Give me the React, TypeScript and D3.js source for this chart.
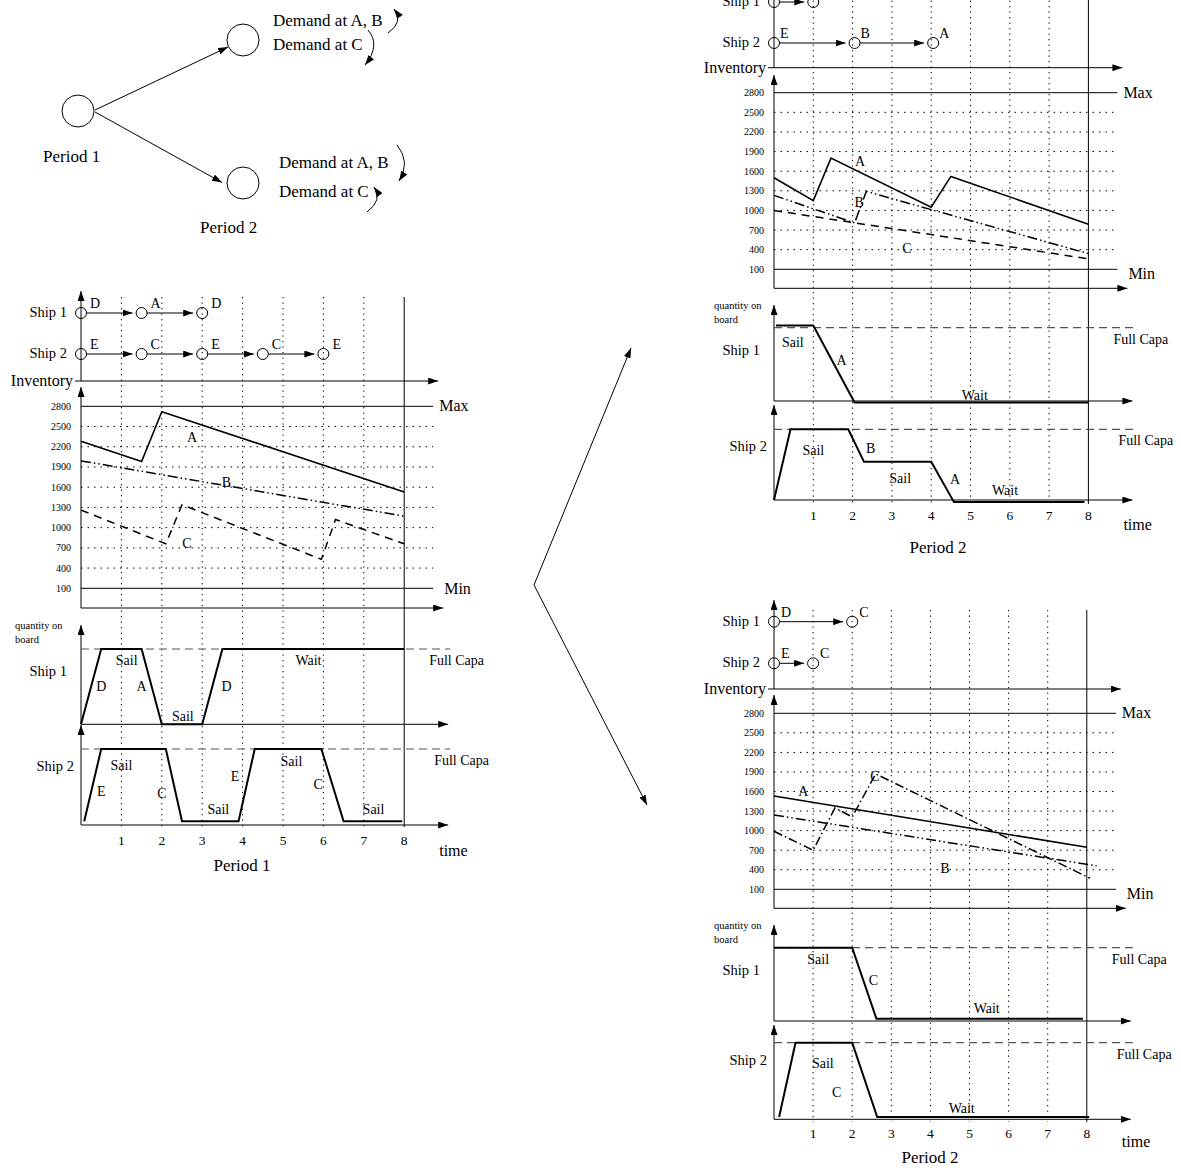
import React from 'react';
import * as d3 from 'd3';

type Pt = [number, number];
type Stop = { t: number; label: string };
type Lbl = { t: number; v: number; text: string };

const FONT = '"Liberation Serif", "Times New Roman", serif';

// ---------- shared ticks ----------
const invTicks = [2800, 2500, 2200, 1900, 1600, 1300, 1000, 700, 400, 100];
const timeTicks = [1, 2, 3, 4, 5, 6, 7, 8];

// ---------- Period 1 ----------
const p1InvA: Pt[] = [[0, 2280], [1.5, 1980], [2, 2720], [8, 1530]];
const p1InvB: Pt[] = [[0, 1990], [8, 1170]];
const p1InvC: Pt[] = [[0, 1260], [2.1, 760], [2.5, 1340], [5.95, 530], [6.3, 1120], [8, 760]];
const p1Ship1Route: Stop[] = [{ t: 0, label: 'D' }, { t: 1.5, label: 'A' }, { t: 3, label: 'D' }];
const p1Ship2Route: Stop[] = [{ t: 0, label: 'E' }, { t: 1.5, label: 'C' }, { t: 3, label: 'E' }, { t: 4.5, label: 'C' }, { t: 6, label: 'E' }];
const p1Ship1Load: Pt[] = [[0, 0], [0.5, 1], [1.5, 1], [2, 0], [3, 0], [3.5, 1], [8, 1]];
const p1Ship2Load: Pt[] = [[0.08, 0.05], [0.5, 1], [2.1, 1], [2.5, 0.05], [3.9, 0.05], [4.3, 1], [5.95, 1], [6.5, 0.05], [7.95, 0.05]];
const p1InvLabels: Lbl[] = [{ t: 2.75, v: 2340, text: 'A' }, { t: 3.6, v: 1680, text: 'B' }, { t: 2.62, v: 770, text: 'C' }];
const p1Ship1Labels: Lbl[] = [
  { t: 1.13, v: 0.85, text: 'Sail' }, { t: 0.5, v: 0.51, text: 'D' }, { t: 1.5, v: 0.51, text: 'A' },
  { t: 2.52, v: 0.11, text: 'Sail' }, { t: 3.6, v: 0.51, text: 'D' }, { t: 5.63, v: 0.85, text: 'Wait' },
];
const p1Ship2Labels: Lbl[] = [
  { t: 1.0, v: 0.79, text: 'Sail' }, { t: 0.5, v: 0.45, text: 'E' }, { t: 2.0, v: 0.42, text: 'C' },
  { t: 3.4, v: 0.21, text: 'Sail' }, { t: 3.81, v: 0.645, text: 'E' }, { t: 5.21, v: 0.84, text: 'Sail' },
  { t: 5.87, v: 0.535, text: 'C' }, { t: 7.24, v: 0.21, text: 'Sail' },
];

// ---------- Period 2, first branch ----------
const p2aInvA: Pt[] = [[0, 1500], [1, 1150], [1.45, 1800], [4, 1050], [4.5, 1520], [8, 790]];
const p2aInvB: Pt[] = [[0, 1230], [2.05, 810], [2.35, 1290], [8, 340]];
const p2aInvC: Pt[] = [[0, 1000], [8, 260]];
const p2aShip1Route: Stop[] = [{ t: 0, label: '' }, { t: 1, label: '' }];
const p2aShip2Route: Stop[] = [{ t: 0, label: 'E' }, { t: 2.05, label: 'B' }, { t: 4.05, label: 'A' }];
const p2aShip1Load: Pt[] = [[0.05, 1.03], [1, 1.03], [2.05, -0.02], [8, -0.02]];
const p2aShip2Load: Pt[] = [[0, 0], [0.42, 1], [1.89, 1], [2.29, 0.54], [4, 0.54], [4.58, -0.03], [7.9, -0.03]];
const p2aInvLabels: Lbl[] = [{ t: 2.19, v: 1760, text: 'A' }, { t: 2.17, v: 1130, text: 'B' }, { t: 3.38, v: 420, text: 'C' }];
const p2aShip1Labels: Lbl[] = [{ t: 0.48, v: 0.81, text: 'Sail' }, { t: 1.72, v: 0.56, text: 'A' }, { t: 5.11, v: 0.08, text: 'Wait' }];
const p2aShip2Labels: Lbl[] = [
  { t: 1.0, v: 0.71, text: 'Sail' }, { t: 2.46, v: 0.73, text: 'B' }, { t: 3.21, v: 0.31, text: 'Sail' },
  { t: 4.61, v: 0.29, text: 'A' }, { t: 5.88, v: 0.14, text: 'Wait' },
];

// ---------- Period 2, second branch ----------
const p2bInvA: Pt[] = [[0, 1530], [8, 745]];
const p2bInvB: Pt[] = [[0, 1240], [8.25, 460]];
const p2bInvC: Pt[] = [[0, 990], [1, 700], [1.56, 1350], [2, 1210], [2.6, 1870], [8.08, 270]];
const p2bShip1Route: Stop[] = [{ t: 0, label: 'D' }, { t: 2, label: 'C' }];
const p2bShip2Route: Stop[] = [{ t: 0, label: 'E' }, { t: 1, label: 'C' }];
const p2bShip1Load: Pt[] = [[0, 1], [2, 1], [2.62, 0.03], [7.9, 0.03]];
const p2bShip2Load: Pt[] = [[0.13, 0.03], [0.55, 1], [2, 1], [2.64, 0.03], [8.06, 0.03]];
const p2bInvLabels: Lbl[] = [{ t: 0.75, v: 1600, text: 'A' }, { t: 4.37, v: 430, text: 'B' }, { t: 2.58, v: 1830, text: 'C' }];
const p2bShip1Labels: Lbl[] = [{ t: 1.13, v: 0.84, text: 'Sail' }, { t: 2.54, v: 0.56, text: 'C' }, { t: 5.44, v: 0.17, text: 'Wait' }];
const p2bShip2Labels: Lbl[] = [{ t: 1.25, v: 0.73, text: 'Sail' }, { t: 1.6, v: 0.36, text: 'C' }, { t: 4.8, v: 0.15, text: 'Wait' }];

// ---------- layout ----------
interface Layout {
  x0: number; unit: number;
  route1: number; route2: number; routeTop: number;
  invAxis: number; invTop: number; y2800: number; y100: number; invBottom: number;
  s1Top: number; s1Full: number; s1Base: number;
  s2Top: number; s2Full: number; s2Base: number;
  ticksY: number; timeY: number; periodY: number; periodX: number;
  gridTop: number; gridBottom: number; qLabelX: number; period: string;
  minDy: number; routeLabelDx: number;
}

interface PanelData {
  invA: Pt[]; invB: Pt[]; invC: Pt[];
  route1: Stop[]; route2: Stop[];
  load1: Pt[]; load2: Pt[];
  invLabels: Lbl[]; s1Labels: Lbl[]; s2Labels: Lbl[];
  dashB: string; dashC: string;
}

const DASH_DOT2 = '10,3,1.5,3,1.5,3';
const DASHED = '8,6';

const L1: Layout = {
  x0: 81, unit: 40.4, route1: 313, route2: 354, routeTop: 291,
  invAxis: 381, invTop: 387, y2800: 406.3, y100: 588.3, invBottom: 608,
  s1Top: 625, s1Full: 649, s1Base: 724.3, s2Top: 725, s2Full: 749, s2Base: 825,
  ticksY: 845, timeY: 856, periodY: 871, periodX: 242,
  gridTop: 297, gridBottom: 827, qLabelX: 15, period: 'Period 1', minDy: 6, routeLabelDx: 9,
};
const L2a: Layout = {
  x0: 774, unit: 39.3, route1: 2, route2: 43, routeTop: -20,
  invAxis: 67.7, invTop: 75, y2800: 92.7, y100: 269.3, invBottom: 288.3,
  s1Top: 305, s1Full: 327.7, s1Base: 401, s2Top: 405, s2Full: 429.3, s2Base: 500,
  ticksY: 520, timeY: 529.5, periodY: 553, periodX: 938,
  gridTop: -5, gridBottom: 504, qLabelX: 714, period: 'Period 2', minDy: 10, routeLabelDx: 6,
};
const L2b: Layout = {
  x0: 774, unit: 39.1, route1: 621.7, route2: 663.3, routeTop: 600,
  invAxis: 689, invTop: 695, y2800: 713.3, y100: 889.3, invBottom: 908.3,
  s1Top: 925, s1Full: 947.7, s1Base: 1021, s2Top: 1025, s2Full: 1042.7, s2Base: 1119.3,
  ticksY: 1137.5, timeY: 1147, periodY: 1163, periodX: 930,
  gridTop: 610, gridBottom: 1122, qLabelX: 714, period: 'Period 2', minDy: 10, routeLabelDx: 7,
};

const D1: PanelData = {
  invA: p1InvA, invB: p1InvB, invC: p1InvC, route1: p1Ship1Route, route2: p1Ship2Route,
  load1: p1Ship1Load, load2: p1Ship2Load, invLabels: p1InvLabels, s1Labels: p1Ship1Labels, s2Labels: p1Ship2Labels,
  dashB: DASH_DOT2, dashC: DASHED,
};
const D2a: PanelData = {
  invA: p2aInvA, invB: p2aInvB, invC: p2aInvC, route1: p2aShip1Route, route2: p2aShip2Route,
  load1: p2aShip1Load, load2: p2aShip2Load, invLabels: p2aInvLabels, s1Labels: p2aShip1Labels, s2Labels: p2aShip2Labels,
  dashB: DASH_DOT2, dashC: DASHED,
};
const D2b: PanelData = {
  invA: p2bInvA, invB: p2bInvB, invC: p2bInvC, route1: p2bShip1Route, route2: p2bShip2Route,
  load1: p2bShip1Load, load2: p2bShip2Load, invLabels: p2bInvLabels, s1Labels: p2bShip1Labels, s2Labels: p2bShip2Labels,
  dashB: DASH_DOT2, dashC: '9,3,1.5,3',
};

const T = (props: any) => <text fontFamily={FONT} fill="#000" {...props} />;

function Arrow({ x1, y1, x2, y2, w = 1 }: { x1: number; y1: number; x2: number; y2: number; w?: number }) {
  return <line x1={x1} y1={y1} x2={x2} y2={y2} stroke="#000" strokeWidth={w} markerEnd="url(#ah)" />;
}

function Route({ stops, row, x, dx }: { stops: Stop[]; row: number; x: d3.ScaleLinear<number, number>; dx: number }) {
  return (
    <g>
      {stops.map((s, i) => (
        <g key={i}>
          <circle cx={x(s.t)} cy={row} r={5.5} fill="none" stroke="#000" strokeWidth={1} />
          {s.label && <T x={x(s.t) + dx} y={row - 5} fontSize={14}>{s.label}</T>}
          {i < stops.length - 1 && (
            <Arrow x1={x(s.t) + 5.5} y1={row} x2={x(stops[i + 1].t) - 9} y2={row} />
          )}
        </g>
      ))}
    </g>
  );
}

function Panel({ L, D }: { L: Layout; D: PanelData }) {
  const x = d3.scaleLinear().domain([0, 8]).range([L.x0, L.x0 + 8 * L.unit]);
  const xEnd = x(8);
  const yInv = d3.scaleLinear().domain([100, 2800]).range([L.y100, L.y2800]);
  const yS1 = d3.scaleLinear().domain([0, 1]).range([L.s1Base, L.s1Full]);
  const yS2 = d3.scaleLinear().domain([0, 1]).range([L.s2Base, L.s2Full]);
  const invLine = d3.line<Pt>().x(d => x(d[0])).y(d => yInv(d[1]));
  const s1Line = d3.line<Pt>().x(d => x(d[0])).y(d => yS1(d[1]));
  const s2Line = d3.line<Pt>().x(d => x(d[0])).y(d => yS2(d[1]));

  return (
    <g>
      {/* vertical grid */}
      {timeTicks.map(t => (
        <line key={'vg' + t} x1={x(t)} x2={x(t)} y1={L.gridTop} y2={L.gridBottom}
          stroke="#000" strokeWidth={1} strokeDasharray={t === 8 ? undefined : '1.3,4.2'} />
      ))}
      {/* horizontal inventory grid */}
      {invTicks.map(v => (
        <g key={'hg' + v}>
          <line x1={L.x0} x2={xEnd + 29} y1={yInv(v)} y2={yInv(v)} stroke="#000" strokeWidth={1}
            strokeDasharray={v === 2800 || v === 100 ? undefined : '1.5,5'} />
          <T x={L.x0 - 10} y={yInv(v) + 3.5} fontSize={10} textAnchor="end">{v}</T>
        </g>
      ))}
      <T x={xEnd + 35} y={L.y2800 + 5} fontSize={16}>Max</T>
      <T x={xEnd + 40} y={L.y100 + L.minDy} fontSize={16}>Min</T>

      {/* route area */}
      <line x1={L.x0} y1={L.invAxis} x2={L.x0} y2={L.routeTop} stroke="#000" markerEnd="url(#ah)" />
      <T x={L.x0 - 14} y={L.route1 + 4} fontSize={14.5} textAnchor="end">Ship 1</T>
      <T x={L.x0 - 14} y={L.route2 + 4} fontSize={14.5} textAnchor="end">Ship 2</T>
      <Route stops={D.route1} row={L.route1} x={x} dx={L.routeLabelDx} />
      <Route stops={D.route2} row={L.route2} x={x} dx={L.routeLabelDx} />
      <Arrow x1={L.x0 - 6} y1={L.invAxis} x2={xEnd + 34} y2={L.invAxis} />
      <T x={L.x0 - 8} y={L.invAxis + 5} fontSize={16} textAnchor="end">Inventory</T>

      {/* inventory axes */}
      <Arrow x1={L.x0} y1={L.invBottom} x2={L.x0} y2={L.invTop} />
      <Arrow x1={L.x0} y1={L.invBottom} x2={xEnd + 39} y2={L.invBottom} />

      {/* inventory series */}
      <path d={invLine(D.invA) || ''} fill="none" stroke="#000" strokeWidth={1.6} />
      <path d={invLine(D.invB) || ''} fill="none" stroke="#000" strokeWidth={1.5} strokeDasharray={D.dashB} />
      <path d={invLine(D.invC) || ''} fill="none" stroke="#000" strokeWidth={1.5} strokeDasharray={D.dashC} />
      {D.invLabels.map((l, i) => (
        <T key={'il' + i} x={x(l.t)} y={yInv(l.v)} dy="0.35em" fontSize={14} textAnchor="middle">{l.text}</T>
      ))}

      {/* ship 1 load */}
      <T x={L.qLabelX} y={L.s1Top + 3.5} fontSize={10.5}>quantity on</T>
      <T x={L.qLabelX} y={L.s1Top + 17.5} fontSize={10.5}>board</T>
      <T x={L.x0 - 14} y={L.s1Full + 27} fontSize={14.5} textAnchor="end">Ship 1</T>
      <Arrow x1={L.x0} y1={L.s1Base} x2={L.x0} y2={L.s1Top} />
      <Arrow x1={L.x0} y1={L.s1Base} x2={xEnd + 44} y2={L.s1Base} />
      <line x1={L.x0} x2={xEnd + 46} y1={yS1(1)} y2={yS1(1)} stroke="#555" strokeWidth={1.2} strokeDasharray="8,5" />
      <T x={xEnd + 25} y={L.s1Full + 16} fontSize={14}>Full Capa</T>
      <path d={s1Line(D.load1) || ''} fill="none" stroke="#000" strokeWidth={2} />
      {D.s1Labels.map((l, i) => (
        <T key={'s1' + i} x={x(l.t)} y={yS1(l.v)} dy="0.35em" fontSize={14} textAnchor="middle">{l.text}</T>
      ))}

      {/* ship 2 load */}
      <T x={L.x0 - 7} y={L.s2Full + 22} fontSize={14.5} textAnchor="end">Ship 2</T>
      <Arrow x1={L.x0} y1={L.s2Base} x2={L.x0} y2={L.s2Top} />
      <Arrow x1={L.x0} y1={L.s2Base} x2={xEnd + 44} y2={L.s2Base} />
      <line x1={L.x0} x2={xEnd + 46} y1={yS2(1)} y2={yS2(1)} stroke="#555" strokeWidth={1.2} strokeDasharray="8,5" />
      <T x={xEnd + 30} y={L.s2Full + 16} fontSize={14}>Full Capa</T>
      <path d={s2Line(D.load2) || ''} fill="none" stroke="#000" strokeWidth={2} />
      {D.s2Labels.map((l, i) => (
        <T key={'s2' + i} x={x(l.t)} y={yS2(l.v)} dy="0.35em" fontSize={14} textAnchor="middle">{l.text}</T>
      ))}

      {/* time ticks */}
      {timeTicks.map(t => (
        <T key={'tt' + t} x={x(t)} y={L.ticksY} fontSize={13.5} textAnchor="middle">{t}</T>
      ))}
      <T x={xEnd + 35} y={L.timeY} fontSize={16}>time</T>
      <T x={L.periodX} y={L.periodY} fontSize={17} textAnchor="middle">{L.period}</T>
    </g>
  );
}

function Tree() {
  return (
    <g>
      <circle cx={78} cy={111} r={16} fill="none" stroke="#000" />
      <circle cx={243} cy={40} r={16} fill="none" stroke="#000" />
      <circle cx={243} cy={183} r={16} fill="none" stroke="#000" />
      <Arrow x1={95} y1={110} x2={228} y2={47} />
      <Arrow x1={95} y1={112} x2={222} y2={182.5} />
      <T x={43} y={162} fontSize={17}>Period 1</T>
      <T x={200} y={233} fontSize={17}>Period 2</T>
      <T x={273} y={26} fontSize={17}>Demand at A, B</T>
      <T x={273} y={50} fontSize={17}>Demand at C</T>
      <T x={279} y={168} fontSize={17}>Demand at A, B</T>
      <T x={279} y={197} fontSize={17}>Demand at C</T>
      <path d="M388,33 Q404,22 394,9" fill="none" stroke="#000" markerEnd="url(#ah)" />
      <path d="M368,30 Q381,45 365,65" fill="none" stroke="#000" markerEnd="url(#ah)" />
      <path d="M397,145 Q411,162 399,181" fill="none" stroke="#000" markerEnd="url(#ah)" />
      <path d="M367,212 Q383,200 374,187" fill="none" stroke="#000" markerEnd="url(#ah)" />
    </g>
  );
}

export default function App() {
  return (
    <svg width={1181} height={1168} viewBox="0 0 1181 1168"
      style={{ position: 'absolute', left: 0, top: 0, background: '#fff' }}>
      <defs>
        <marker id="ah" viewBox="0 0 10 7" refX={10} refY={3.5} markerWidth={10} markerHeight={7}
          markerUnits="userSpaceOnUse" orient="auto">
          <path d="M0,0 L10,3.5 L0,7 z" fill="#000" />
        </marker>
      </defs>
      <rect x={0} y={0} width={1181} height={1168} fill="#fff" />
      <Tree />
      <Panel L={L1} D={D1} />
      <Panel L={L2a} D={D2a} />
      <Panel L={L2b} D={D2b} />
      {/* branching arrows between periods */}
      <Arrow x1={534} y1={585} x2={631} y2={348} />
      <Arrow x1={534} y1={585} x2={647} y2={805} />
    </svg>
  );
}
